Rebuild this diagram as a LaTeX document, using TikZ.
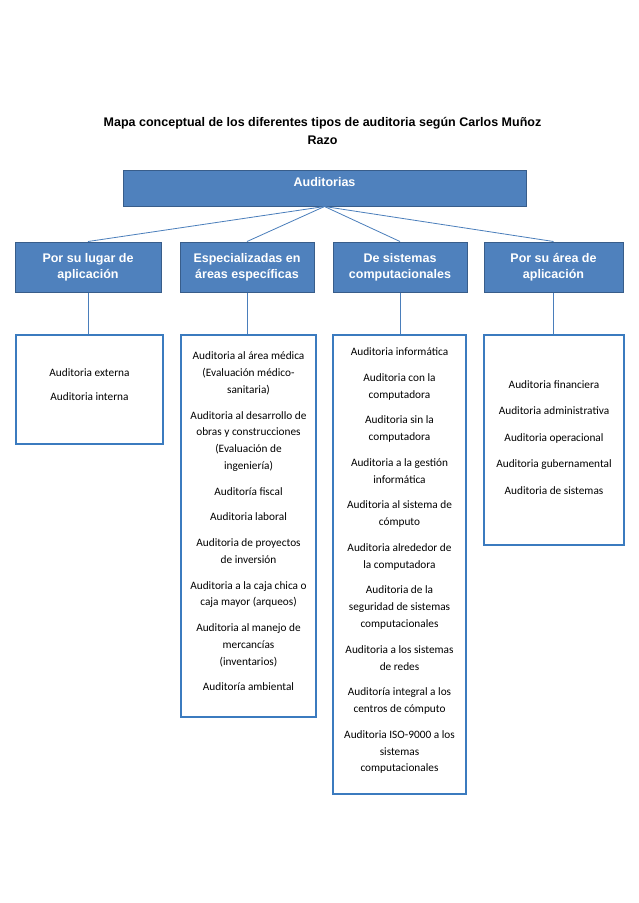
\documentclass[tikz,border=0pt]{standalone}
\usepackage{fontspec}
\setmainfont{Carlito}
\newfontfamily\arialfont{Liberation Sans}
\definecolor{boxblue}{HTML}{4F81BD}
\definecolor{boxedge}{HTML}{385D8A}
\definecolor{leafedge}{HTML}{3B7BBF}
\definecolor{linkblue}{HTML}{4A7EBB}
\tikzset{
  titletext/.style={align=center, inner sep=0pt, anchor=north, font=\arialfont\bfseries\fontsize{12.5}{18}\selectfont, execute at begin node=\strut},
  topbox/.style={draw=boxedge, fill=boxblue, line width=1pt, text=white, font=\arialfont\bfseries\fontsize{12.5}{15}\selectfont, text height=9pt, text depth=12pt, inner sep=0pt},
  catbox/.style={draw=boxedge, fill=boxblue, line width=1pt, text=white, align=center, minimum height=50pt, inner sep=0pt, font=\arialfont\bfseries\fontsize{12.5}{16}\selectfont},
  leafbox/.style={draw=leafedge, line width=1.8pt, fill=white, inner sep=0pt},
  leaftext/.style={align=center, inner sep=0pt, anchor=north, font=\fontsize{11.3}{16.8}\selectfont, execute at begin node=\strut},
  link/.style={draw=linkblue, line width=0.8pt}
}
\begin{document}
\begin{tikzpicture}[x=1pt,y=-1pt]
\useasboundingbox (0,0) rectangle (638,903);
\fill[white] (0,0) rectangle (638,903);

\node[titletext] (title) at (322.5,117) {Mapa conceptual de los diferentes tipos de auditoria según Carlos Muñoz\\Razo};

\node[topbox, minimum width=403pt, minimum height=36pt] (aud) at (324.5,188) {Auditorias};

\node[catbox, minimum width=146pt] (c1) at (88,267) {Por su lugar de\\aplicación};
\node[catbox, minimum width=134pt] (c2) at (247,267) {Especializadas en\\áreas específicas};
\node[catbox, minimum width=134pt] (c3) at (400,267) {De sistemas\\computacionales};
\node[catbox, minimum width=139pt] (c4) at (553.5,267) {Por su área de\\aplicación};

\foreach \c in {c1,c2,c3,c4} \draw[link] (aud.south) -- (\c.north);

\node[leafbox, minimum width=147pt, minimum height=109pt] (la) at (89.5,389.5) {};
\node[leafbox, minimum width=135pt, minimum height=382pt] (lb) at (248.5,526) {};
\node[leafbox, minimum width=133pt, minimum height=459pt] (lc) at (399.5,564.5) {};
\node[leafbox, minimum width=140pt, minimum height=210pt] (ld) at (554,440) {};

\draw[link] (c1.south) -- (c1.south |- la.north);
\draw[link] (c2.south) -- (c2.south |- lb.north);
\draw[link] (c3.south) -- (c3.south |- lc.north);
\draw[link] (c4.south) -- (c4.south |- ld.north);

\node[leaftext] (lat) at (89.5,368.7) {Auditoria externa\\[7.2pt]Auditoria interna};

\node[leaftext] (lbt) at (248.5,351.7) {Auditoria al área médica\\(Evaluación médico-\\sanitaria)\\[8.9pt]Auditoria al desarrollo de\\obras y construcciones\\(Evaluación de\\ingeniería)\\[8.9pt]Auditoría fiscal\\[8.9pt]Auditoria laboral\\[8.9pt]Auditoria de proyectos\\de inversión\\[8.9pt]Auditoria a la caja chica o\\caja mayor (arqueos)\\[8.9pt]Auditoria al manejo de\\mercancías\\(inventarios)\\[8.9pt]Auditoría ambiental};

\node[leaftext] (lct) at (399.5,347.7) {Auditoria informática\\[8.9pt]Auditoria con la\\computadora\\[8.9pt]Auditoria sin la\\computadora\\[8.9pt]Auditoria a la gestión\\informática\\[8.9pt]Auditoria al sistema de\\cómputo\\[8.9pt]Auditoria alrededor de\\la computadora\\[8.9pt]Auditoria de la\\seguridad de sistemas\\computacionales\\[8.9pt]Auditoria a los sistemas\\de redes\\[8.9pt]Auditoría integral a los\\centros de cómputo\\[8.9pt]Auditoria ISO-9000 a los\\sistemas\\computacionales};

\node[leaftext] (ldt) at (554,380) {Auditoria financiera\\[9.7pt]Auditoria administrativa\\[9.7pt]Auditoria operacional\\[9.7pt]Auditoria gubernamental\\[9.7pt]Auditoria de sistemas};
\end{tikzpicture}
\end{document}
